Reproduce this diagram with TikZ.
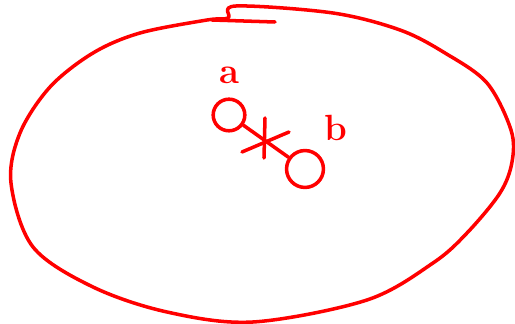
\documentclass[tikz,border=0pt]{standalone}
\usepackage{tikz}
\usetikzlibrary{positioning, calc}
\tikzset{
    pen/.style={draw=red, line width=2pt, line cap=round, line join=round},
    endpt/.style={circle, draw=red, line width=2pt, inner sep=0pt, minimum size=18pt},
    plabel/.style={font=\huge\bfseries, text=red}
}

\begin{document}
\begin{tikzpicture}[x=0.02cm, y=-0.02cm]
        \useasboundingbox (0,0) rectangle (515,324);
        % Outer closed curve
        \draw[pen] plot[smooth cycle, tension=0.55] coordinates {
            (236,6) (333,13) (400,30) (445,53) (487,83) (511,130) (512,162)
            (500,193) (467,233) (433,263) (367,300) (253,322) (167,312)
            (93,287) (33,247) (11,183) (20,133) (50,87) (93,53) (140,33)
            (207,20) (228,18)};
        \draw[pen] (212,20) -- (275,22); % overlap at the top

        % Points a and b
        \node[endpt, label={[plabel, label distance=4pt]above:a}] (a) at (229,115) {};
        \node[endpt, minimum height=21pt] (b) at (305,169) {};
        \node[plabel] (lb) at (336,128) {b};
        \coordinate (mid) at (264,140);

        % Segment between them
        \draw[pen] (a) -- (b);
        % Cross on the segment
        \draw[pen] ($(mid)+(1,-22)$) -- ($(mid)+(0,18)$);
        \draw[pen] ($(mid)+(-22,12)$) -- ($(mid)+(25,-8)$);
    \end{tikzpicture}
\end{document}
